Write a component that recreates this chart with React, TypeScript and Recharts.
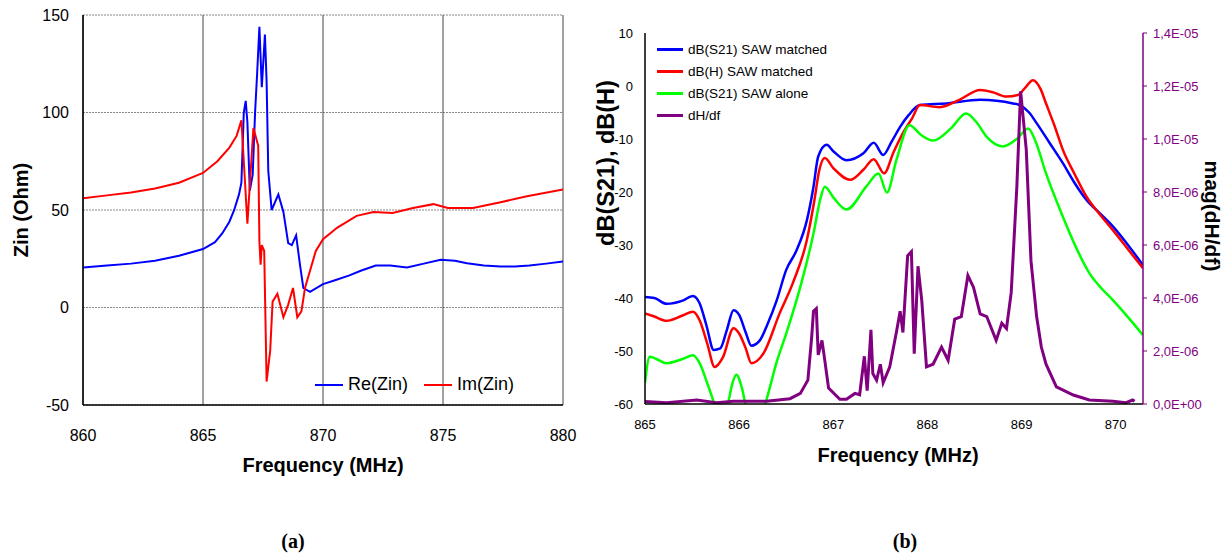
import { CartesianGrid, Legend, Line, LineChart, XAxis, YAxis } from "recharts";

// (a) input impedance, frequency in MHz, ohms
const reZin: [number, number][] = [
  [860, 20.5], [861, 21.5], [862, 22.5], [863, 24], [864, 26.5], [865, 30], [865.5, 33.5],
  [865.8, 38], [866.1, 44], [866.3, 50], [866.5, 58], [866.6, 64], [866.7, 100], [866.78, 106],
  [866.85, 95], [866.95, 60], [867.07, 68], [867.17, 100], [867.26, 121], [867.35, 144],
  [867.45, 113], [867.58, 140], [867.65, 116], [867.72, 70], [867.86, 50], [868.14, 58],
  [868.35, 49], [868.55, 33], [868.7, 32], [868.88, 37], [869.04, 22], [869.18, 10],
  [869.46, 8], [870, 12], [870.5, 14], [871.1, 16.5], [871.6, 19], [872.2, 21.5], [872.8, 21.5],
  [873.5, 20.5], [874.2, 22.5], [874.9, 24.5], [875.5, 24], [876, 22.7], [876.7, 21.5],
  [877.4, 21], [878, 21], [878.6, 21.5], [879.3, 22.5], [880, 23.6],
];
const imZin: [number, number][] = [
  [860, 56], [861, 57.5], [862, 59], [863, 61], [864, 64], [864.8, 68], [865, 69], [865.6, 75],
  [866.1, 82], [866.4, 88], [866.6, 96], [866.85, 43], [867.1, 92], [867.3, 83], [867.35, 34],
  [867.4, 22], [867.45, 32], [867.55, 29], [867.65, -38], [867.8, -22], [867.9, 3], [868.1, 7],
  [868.35, -5], [868.55, 1.5], [868.75, 10], [868.93, -5], [869.1, -2], [869.25, 10],
  [869.7, 29], [870, 35], [870.6, 41], [871.4, 47], [872.1, 49], [872.9, 48.5], [873.75, 51],
  [874.6, 53], [875.2, 51], [876.25, 51], [877.4, 54], [878.5, 57], [880, 60.5],
];
const zinFreqTicks = [860, 865, 870, 875, 880];
const zinTicks = [-50, 0, 50, 100, 150];

// (b) SAW responses, frequency in MHz, dB
const s21Matched: [number, number][] = [
  [865, -39.8], [865.1, -40], [865.23, -41.1], [865.4, -40.5], [865.51, -39.6], [865.58, -41],
  [865.65, -45], [865.73, -49.8], [865.8, -49.5], [865.87, -46], [865.94, -42.3], [866, -43.2],
  [866.07, -46.5], [866.13, -49], [866.22, -48], [866.3, -45], [866.4, -40.4], [866.5, -34.7],
  [866.61, -31], [866.72, -25.3], [866.79, -19], [866.84, -13.3], [866.93, -11.1], [867, -12.3],
  [867.14, -14], [867.32, -12.7], [867.43, -10.7], [867.53, -13], [867.62, -10.5],
  [867.71, -7.7], [867.8, -5.5], [867.92, -3.6], [868.2, -3.3], [868.56, -2.6], [868.91, -3.3],
  [868.98, -3.6], [869.08, -5], [869.16, -7], [869.3, -10.8], [869.44, -14.6], [869.56, -18.2],
  [869.69, -21.5], [869.83, -24], [869.97, -26.5], [870.13, -30], [870.29, -33.8],
];
const hMatched: [number, number][] = [
  [865, -42.9], [865.1, -43.5], [865.23, -44.3], [865.4, -43.3], [865.51, -42.6], [865.58, -44.2],
  [865.66, -48.5], [865.74, -53], [865.83, -51.1], [865.94, -45.7], [866, -46.7], [866.07, -49.5],
  [866.13, -52.3], [866.26, -50.4], [866.43, -42.9], [866.57, -37.2], [866.72, -29],
  [866.8, -21.5], [866.85, -16], [866.91, -13.6], [867, -15.5], [867.18, -17.7], [867.32, -15.8],
  [867.43, -13.8], [867.54, -16.5], [867.64, -12.5], [867.74, -8.9], [867.84, -6], [867.92, -3.6],
  [868.13, -4], [868.34, -2.6], [868.56, -0.75], [868.7, -1.2], [868.84, -2], [868.96, -1.7],
  [869.04, -0.3], [869.12, 1.1], [869.2, -0.5], [869.26, -3.3], [869.35, -7.5], [869.44, -12.1],
  [869.56, -16.5], [869.69, -20.9], [869.83, -24.2], [869.97, -27.2], [870.13, -30.8],
  [870.29, -34.4],
];
const s21Alone: [number, number][] = [
  [865, -56], [865.05, -51.1], [865.12, -51.5], [865.23, -52.3], [865.4, -51.5], [865.51, -50.8],
  [865.58, -52.3], [865.66, -56], [865.73, -59.6], [865.8, -63], [865.88, -60], [865.93, -56],
  [865.97, -54.5], [866.03, -57], [866.08, -61], [866.2, -64], [866.29, -59.2], [866.4, -52],
  [866.5, -46.7], [866.65, -37.9], [866.79, -27.8], [866.86, -21.5], [866.91, -19], [867, -21],
  [867.14, -23.3], [867.35, -19], [867.48, -16.5], [867.57, -20.1], [867.67, -14], [867.81, -7.4],
  [867.93, -9.2], [868.06, -10.3], [868.25, -8], [868.41, -5.2], [868.52, -6.8], [868.63, -9.6],
  [868.8, -11.4], [868.95, -10], [869.07, -8], [869.15, -10.5], [869.26, -16.5], [869.44, -24.7],
  [869.58, -30.5], [869.72, -35.3], [869.85, -38.2], [869.97, -40.4], [870.13, -43.6],
  [870.29, -47],
];
// |dH/df| in units of 1E-06
const dHdf: [number, number][] = [
  [865, 0.09], [865.23, 0.05], [865.55, 0.15], [865.76, 0.05], [865.94, 0.1], [866.29, 0.1],
  [866.54, 0.2], [866.65, 0.4], [866.73, 0.9], [866.77, 2.5], [866.79, 3.5], [866.82, 3.6],
  [866.84, 1.85], [866.88, 2.4], [866.9, 1.9], [866.95, 0.6], [867.07, 0.18], [867.14, 0.18],
  [867.23, 0.4], [867.28, 0.35], [867.33, 1.8], [867.36, 0.5], [867.4, 2.8], [867.42, 1.15],
  [867.46, 0.9], [867.5, 1.5], [867.53, 0.8], [867.6, 1.4], [867.67, 2.7], [867.71, 3.5],
  [867.74, 2.7], [867.79, 5.6], [867.83, 5.75], [867.86, 1.9], [867.9, 5.2], [867.94, 3.9],
  [867.99, 1.4], [868.06, 1.5], [868.15, 2.15], [868.22, 1.65], [868.29, 3.2], [868.36, 3.3],
  [868.43, 4.85], [868.49, 4.4], [868.56, 3.4], [868.63, 3.3], [868.73, 2.4], [868.79, 3.05],
  [868.84, 2.85], [868.89, 4.2], [868.95, 8.2], [868.99, 11.8], [869.05, 9.6], [869.1, 5.4],
  [869.16, 3.3], [869.21, 2.15], [869.26, 1.5], [869.37, 0.65], [869.55, 0.34], [869.72, 0.15],
  [869.97, 0.1], [870.11, 0.05], [870.18, 0.15], [870.2, 0.1],
];
const sawFreqTicks = [865, 866, 867, 868, 869, 870];
const dbTicks = [-60, -50, -40, -30, -20, -10, 0, 10];
const magTicks = [0, 2, 4, 6, 8, 10, 12, 14];

const FONT = '"Liberation Sans", Arial, sans-serif';
const PURPLE = "#800080";

const toPoints = (pts: [number, number][]) => pts.map(([f, v]) => ({ f, v }));

const zinSeries = [
  { name: "Re(Zin)", color: "#0000ff", points: reZin },
  { name: "Im(Zin)", color: "#ff0000", points: imZin },
];
const sawSeries = [
  { name: "dB(S21) SAW matched", color: "#0000ff", points: s21Matched, axis: "db" },
  { name: "dB(H) SAW matched", color: "#ff0000", points: hMatched, axis: "db" },
  { name: "dB(S21) SAW alone", color: "#00ff00", points: s21Alone, axis: "db" },
  { name: "dH/df", color: PURPLE, points: dHdf, axis: "mag" },
];

// 1,4E-05 style (comma decimal)
function fmtMag(v: number) {
  const [m, e] = (v * 1e-6).toExponential(1).split("e");
  const exp = Number(e);
  return `${m.replace(".", ",")}E${exp < 0 ? "-" : "+"}${String(Math.abs(exp)).padStart(2, "0")}`;
}

const title =
  (text: string, x: number, y: number, angle = 0, size = 20) =>
  () =>
    (
      <text
        x={x}
        y={y}
        textAnchor="middle"
        dominantBaseline="central"
        transform={angle ? `rotate(${angle} ${x} ${y})` : undefined}
        fontSize={size}
        fontWeight="bold"
        fill="#000"
      >
        {text}
      </text>
    );

const ZinLegend = () => (
  <div style={{ display: "flex", alignItems: "center", fontSize: 18, color: "#000", fontFamily: FONT }}>
    {zinSeries.map((s) => (
      <div key={s.name} style={{ display: "flex", alignItems: "center", marginRight: 16 }}>
        <span style={{ display: "inline-block", width: 28, borderTop: `2px solid ${s.color}`, marginRight: 5 }} />
        {s.name}
      </div>
    ))}
  </div>
);

const SawLegend = () => (
  <div style={{ fontSize: 13.5, color: "#000", fontFamily: FONT }}>
    {sawSeries.map((s) => (
      <div key={s.name} style={{ display: "flex", alignItems: "center", height: 22 }}>
        <span style={{ display: "inline-block", width: 26, borderTop: `3px solid ${s.color}`, marginRight: 5 }} />
        {s.name}
      </div>
    ))}
  </div>
);

function ZinChart() {
  return (
    <LineChart width={600} height={480} margin={{ top: 15, right: 37, bottom: 35, left: 23 }}>
      <CartesianGrid vertical={false} stroke="#888" strokeDasharray="2 1" />
      <CartesianGrid horizontal={false} stroke="#444" />
      <XAxis
        dataKey="f"
        type="number"
        domain={[860, 880]}
        ticks={zinFreqTicks}
        allowDataOverflow
        height={40}
        tickLine={false}
        tickSize={0}
        tickMargin={25}
        tick={{ fontSize: 16, fill: "#000" }}
        axisLine={{ stroke: "#000", strokeWidth: 1.5 }}
        label={title("Frequency (MHz)", 323, 465)}
      />
      <XAxis xAxisId="top" orientation="top" type="number" domain={[860, 880]} height={0} tick={false} tickLine={false} axisLine={{ stroke: "#000", strokeWidth: 1.5 }} />
      <YAxis
        type="number"
        domain={[-50, 150]}
        ticks={zinTicks}
        allowDataOverflow
        width={60}
        tickLine={false}
        tickSize={0}
        tickMargin={14}
        tick={{ fontSize: 16, fill: "#000" }}
        axisLine={{ stroke: "#000", strokeWidth: 1.5 }}
        label={title("Zin (Ohm)", 21, 210, -90)}
      />
      <YAxis yAxisId="right" orientation="right" type="number" domain={[-50, 150]} width={0} tick={false} tickLine={false} axisLine={{ stroke: "#222", strokeWidth: 1.5 }} />
      <Legend
        layout="horizontal"
        verticalAlign="middle"
        align="center"
        content={ZinLegend}
        wrapperStyle={{ left: 315, top: 374, width: 260, height: 22 }}
      />
      {zinSeries.map((s) => (
        <Line
          key={s.name}
          data={toPoints(s.points)}
          dataKey="v"
          name={s.name}
          type="linear"
          stroke={s.color}
          strokeWidth={2}
          dot={false}
          isAnimationActive={false}
        />
      ))}
    </LineChart>
  );
}

function SawChart() {
  return (
    <LineChart width={651} height={480} margin={{ top: 33, right: 24, bottom: 36, left: 25 }}>
      <XAxis
        dataKey="f"
        type="number"
        domain={[865, 870.29]}
        ticks={sawFreqTicks}
        allowDataOverflow
        height={40}
        tickLine={false}
        tickSize={0}
        tickMargin={16}
        tick={{ fontSize: 13, fill: "#000" }}
        axisLine={{ stroke: "#000", strokeWidth: 1.5 }}
        label={title("Frequency (MHz)", 318, 455)}
      />
      <XAxis xAxisId="top" orientation="top" type="number" domain={[865, 870.29]} height={0} tick={false} tickLine={false} axisLine={{ stroke: "#000", strokeWidth: 1.5 }} />
      <YAxis
        yAxisId="db"
        type="number"
        domain={[-60, 10]}
        ticks={dbTicks}
        allowDataOverflow
        width={40}
        tickLine={false}
        tickSize={0}
        tickMargin={12}
        tick={{ fontSize: 13, fill: "#000" }}
        axisLine={{ stroke: "#000", strokeWidth: 1.5 }}
        label={title("dB(S21), dB(H)", 26, 163, -90, 23.5)}
      />
      <YAxis
        yAxisId="mag"
        orientation="right"
        type="number"
        domain={[0, 14]}
        ticks={magTicks}
        allowDataOverflow
        width={64}
        tickSize={4}
        tickMargin={6}
        tickFormatter={fmtMag}
        tickLine={{ stroke: PURPLE }}
        tick={{ fontSize: 13, fill: PURPLE }}
        axisLine={{ stroke: PURPLE, strokeWidth: 1.5 }}
        label={title("mag(dH/df)", 632, 216, 90, 21)}
      />
      <Legend
        layout="horizontal"
        verticalAlign="middle"
        align="center"
        content={SawLegend}
        wrapperStyle={{ left: 77, top: 38, width: 200, height: 88 }}
      />
      {sawSeries.map((s) => (
        <Line
          key={s.name}
          yAxisId={s.axis}
          data={toPoints(s.points)}
          dataKey="v"
          name={s.name}
          type={s.axis === "mag" ? "linear" : "monotone"}
          stroke={s.color}
          strokeWidth={s.axis === "mag" ? 3 : 2.5}
          dot={false}
          isAnimationActive={false}
        />
      ))}
    </LineChart>
  );
}

const caption = {
  position: "absolute" as const,
  top: 530,
  width: 60,
  textAlign: "center" as const,
  fontFamily: '"Liberation Serif", "Times New Roman", serif',
  fontWeight: "bold" as const,
  fontSize: 20,
  color: "#000",
};

export default function App() {
  return (
    <div style={{ position: "absolute", left: 0, top: 0, width: 1231, height: 554, background: "#fff", fontFamily: FONT }}>
      <div style={{ position: "absolute", left: 0, top: 0 }}>
        <ZinChart />
      </div>
      <div style={{ position: "absolute", left: 580, top: 0 }}>
        <SawChart />
      </div>
      <div style={{ ...caption, left: 263 }}>(a)</div>
      <div style={{ ...caption, left: 875 }}>(b)</div>
    </div>
  );
}
